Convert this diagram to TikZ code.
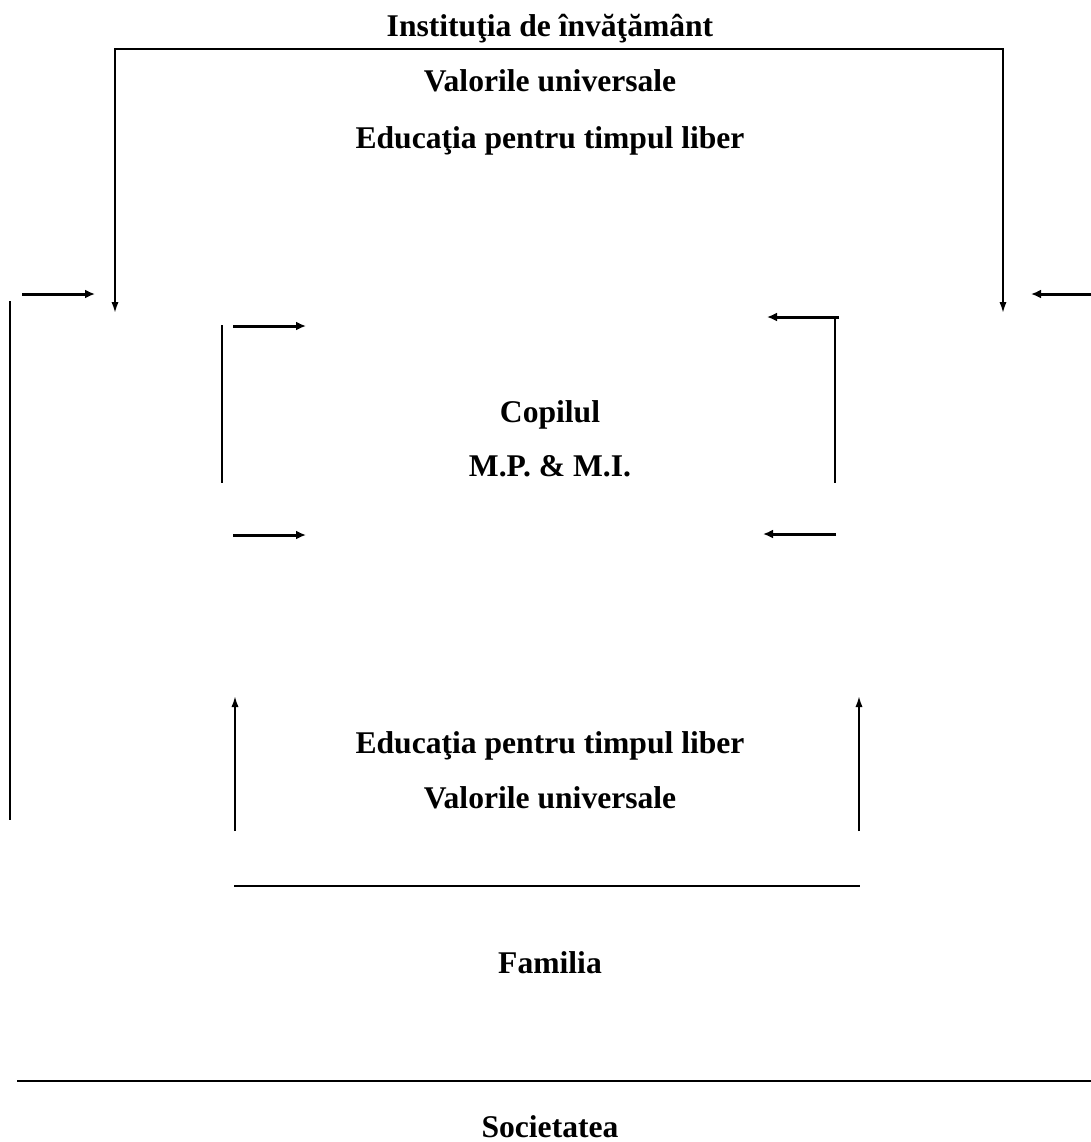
\documentclass[tikz,border=0pt]{standalone}
\usepackage{fontspec}
\setmainfont{Liberation Serif}
\usetikzlibrary{arrows.meta}

\begin{document}
\begin{tikzpicture}[>={Latex[length=5.5pt,width=3.6pt]},x=0.5pt,y=-0.5pt,line width=0.9pt,
  lbl/.style={anchor=base,font=\fontsize{15.8}{18}\selectfont\bfseries,inner sep=0pt},
  hook/.style={-{Latex[length=5pt,width=4.5pt]},line width=1.5pt}]
\useasboundingbox (0,0) rectangle (1091,1142);
% texts
\node[lbl] (inst) at (550,36) {Instituţia de învăţământ};
\node[lbl] (valtop) at (550,91) {Valorile universale};
\node[lbl] (edutop) at (550,148) {Educaţia pentru timpul liber};
\node[lbl] (copil) at (550,422) {Copilul};
\node[lbl] (mpmi) at (550,476) {M.P. \& M.I.};
\node[lbl] (edubot) at (550,753) {Educaţia pentru timpul liber};
\node[lbl] (valbot) at (550,808) {Valorile universale};
\node[lbl] (fam) at (550,973) {Familia};
\node[lbl] (soc) at (550,1137) {Societatea};
% institutia
\coordinate (iL) at (115,49);
\coordinate (iR) at (1003,49);
\coordinate (iLe) at (115,313);
\coordinate (iRe) at (1003,313);
\draw[<->] (iLe) -- (iL) -- (iR) -- (iRe);
% societatea, laturile
\coordinate (oL1) at (22,294);
\coordinate (oL2) at (95,294);
\coordinate (oR1) at (1091,294);
\coordinate (oR2) at (1031,294);
\draw[hook] (oL1) -- (oL2);
\draw[hook] (oR1) -- (oR2);
\coordinate (sv1) at (10,301);
\coordinate (sv2) at (10,820);
\draw (sv1) -- (sv2);
\coordinate (s1) at (17,1081);
\coordinate (s2) at (1091,1081);
\draw[line width=1.3pt] (s1) -- (s2);
% copilul
\coordinate (cL1) at (222,325);
\coordinate (cL2) at (222,483);
\draw (cL1) -- (cL2);
\coordinate (a1) at (233,326);
\coordinate (a2) at (306,326);
\coordinate (a3) at (233,535);
\coordinate (a4) at (306,535);
\draw[hook] (a1) -- (a2);
\draw[hook] (a3) -- (a4);
\coordinate (cR1) at (835,316);
\coordinate (cR2) at (835,483);
\draw (cR1) -- (cR2);
\coordinate (b1) at (839,317);
\coordinate (b2) at (767,317);
\coordinate (b3) at (836,534);
\coordinate (b4) at (763,534);
\draw[hook] (b1) -- (b2);
\draw[hook] (b3) -- (b4);
% familia
\coordinate (f1) at (235,831);
\coordinate (f2) at (235,696);
\coordinate (f3) at (859,831);
\coordinate (f4) at (859,696);
\draw[->] (f1) -- (f2);
\draw[->] (f3) -- (f4);
\coordinate (fl1) at (234,886);
\coordinate (fl2) at (860,886);
\draw[line width=1.3pt] (fl1) -- (fl2);
\end{tikzpicture}
\end{document}
